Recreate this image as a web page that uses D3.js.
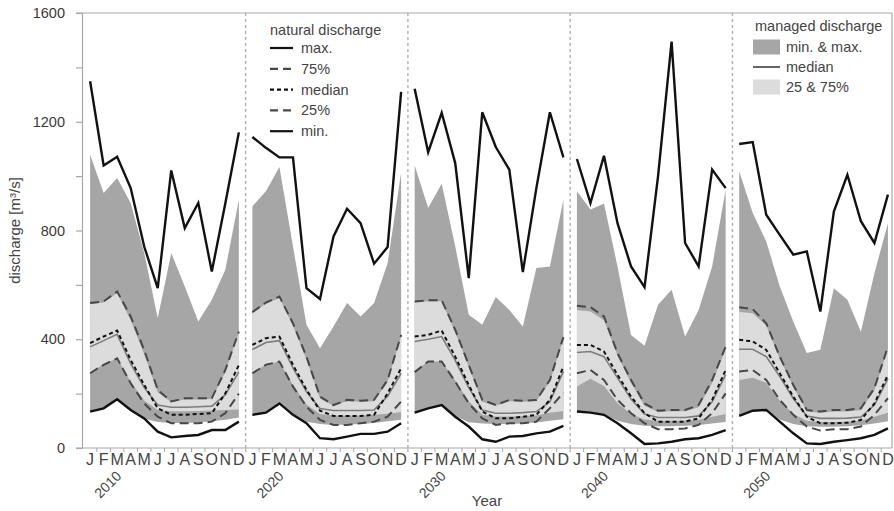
<!DOCTYPE html>
<html>
<head>
<meta charset="utf-8">
<script src="https://cdn.jsdelivr.net/npm/d3@7"></script>
<style>
  body { margin: 0; background: #fff; }
  svg { display: block; }
</style>
</head>
<body>
<div id="chart"></div>
<script>
// decades and months
var years = [2010, 2020, 2030, 2040, 2050];
var months = ["J", "F", "M", "A", "M", "J", "J", "A", "S", "O", "N", "D"];
var yTicks = [0, 400, 800, 1200, 1600];

// natural discharge, one row per decade (m3/s)
var natMax = [
    [1349, 1039, 1071, 956, 741, 588, 1021, 809, 901, 649, 900, 1161],
    [1144, 1104, 1069, 1069, 588, 548, 778, 880, 827, 678, 739, 1310],
    [1321, 1088, 1233, 1048, 625, 1235, 1107, 1024, 647, 956, 1235, 1069],
    [1063, 901, 1075, 827, 668, 592, 1000, 1495, 754, 668, 1024, 956],
    [1118, 1125, 858, 784, 711, 723, 502, 870, 1005, 834, 754, 932]
];
var nat75 = [
    [533, 539, 576, 484, 361, 214, 171, 183, 183, 183, 287, 428],
    [500, 535, 557, 459, 336, 189, 158, 177, 174, 177, 250, 416],
    [539, 543, 543, 435, 306, 177, 158, 177, 174, 177, 250, 408],
    [523, 518, 484, 349, 250, 164, 137, 140, 140, 158, 250, 373],
    [518, 511, 459, 336, 232, 140, 134, 140, 140, 146, 220, 373]
];
var natMedian = [
    [386, 410, 432, 324, 232, 146, 122, 122, 125, 128, 201, 305],
    [379, 404, 410, 306, 214, 137, 118, 118, 118, 122, 201, 293],
    [410, 416, 432, 336, 232, 134, 109, 109, 115, 122, 177, 300],
    [379, 379, 355, 269, 189, 128, 97, 97, 97, 109, 177, 287],
    [398, 392, 361, 275, 189, 115, 91, 91, 93, 103, 164, 269]
];
var nat25 = [
    [275, 306, 330, 238, 164, 115, 91, 91, 91, 97, 128, 200],
    [275, 306, 318, 226, 152, 103, 85, 85, 91, 97, 115, 171],
    [279, 318, 318, 244, 164, 109, 85, 91, 91, 97, 146, 204],
    [275, 287, 250, 177, 128, 91, 69, 69, 72, 85, 128, 201],
    [281, 287, 250, 177, 122, 79, 64, 69, 69, 79, 122, 183]
];
var natMin = [
    [134, 146, 179, 140, 109, 60, 39, 44, 48, 66, 66, 97],
    [122, 130, 164, 122, 91, 36, 32, 42, 52, 52, 60, 91],
    [130, 146, 158, 115, 79, 32, 23, 42, 44, 54, 60, 81],
    [134, 130, 122, 91, 54, 15, 17, 23, 32, 36, 48, 66],
    [118, 137, 140, 97, 54, 17, 15, 23, 29, 36, 48, 72]
];

// managed discharge
var manMax = [
    [1079, 938, 993, 901, 717, 478, 717, 594, 465, 545, 656, 913],
    [889, 944, 1034, 742, 453, 367, 447, 533, 484, 533, 680, 1012],
    [1039, 883, 972, 742, 490, 453, 555, 508, 447, 662, 668, 913],
    [944, 877, 899, 668, 416, 376, 527, 582, 410, 508, 668, 950],
    [1018, 864, 760, 594, 465, 349, 361, 588, 545, 428, 643, 827]
];
var man75 = [
    [530, 535, 570, 470, 345, 205, 168, 178, 178, 180, 280, 425],
    [497, 530, 552, 450, 325, 182, 155, 172, 170, 172, 245, 410],
    [535, 540, 540, 425, 298, 170, 155, 172, 170, 172, 245, 402],
    [508, 502, 470, 340, 240, 155, 132, 135, 135, 150, 240, 365],
    [500, 496, 450, 328, 225, 134, 130, 134, 134, 140, 212, 365]
];
var manMedian = [
    [372, 395, 418, 310, 222, 158, 150, 150, 152, 154, 196, 280],
    [362, 388, 395, 295, 207, 145, 138, 138, 138, 140, 190, 275],
    [392, 400, 410, 322, 222, 140, 128, 128, 130, 134, 170, 282],
    [351, 355, 336, 258, 180, 125, 112, 112, 112, 118, 170, 270],
    [363, 363, 336, 263, 182, 118, 109, 109, 110, 114, 158, 255]
];
var man25 = [
    [278, 308, 330, 245, 175, 140, 135, 135, 136, 138, 140, 142],
    [278, 306, 318, 232, 160, 125, 120, 120, 120, 122, 126, 132],
    [282, 318, 318, 248, 172, 122, 116, 116, 118, 120, 130, 136],
    [226, 255, 228, 165, 125, 105, 100, 100, 100, 104, 115, 125],
    [250, 258, 240, 175, 125, 100, 96, 96, 97, 100, 115, 130]
];
var manMin = [
    [134, 146, 179, 135, 108, 96, 92, 92, 94, 98, 104, 112],
    [122, 130, 164, 122, 97, 88, 85, 86, 88, 92, 98, 104],
    [130, 146, 158, 118, 95, 90, 88, 88, 90, 94, 100, 106],
    [134, 130, 122, 100, 88, 82, 80, 80, 82, 85, 90, 96],
    [118, 137, 140, 105, 88, 80, 78, 78, 80, 84, 90, 98]
];

var natLabels = ["max.", "75%", "median", "25%", "min."];
var manLabels = ["min. & max.", "median", "25 & 75%"];

var W = 894, H = 511;
var margin = { top: 13, right: 2, bottom: 63, left: 82 };
var width = W - margin.left - margin.right,
    height = H - margin.top - margin.bottom;

var font = "'Liberation Sans', Arial, Helvetica, sans-serif";
var darkFill = "#a6a6a6", lightFill = "#dcdcdc", frameCol = "#a8a8a8";

var svg = d3.select("#chart").append("svg")
    .attr("width", W)
    .attr("height", H)
    .style("font-family", font);

var g = svg.append("g")
    .attr("transform", "translate(" + margin.left + "," + margin.top + ")");

// one continuous month index over all five decades
var x = d3.scaleLinear().domain([-0.6, 59.3]).range([0, width]);
var y = d3.scaleLinear().domain([0, 1600]).range([height, 0]);

// frame top + right
g.append("line").attr("x1", -6).attr("x2", width).attr("y1", 0).attr("y2", 0)
    .attr("stroke", frameCol).attr("stroke-width", 1.2);
g.append("line").attr("x1", width).attr("x2", width).attr("y1", 0).attr("y2", height)
    .attr("stroke", frameCol).attr("stroke-width", 1.2);

// y axis
var yAxis = g.append("g")
    .call(d3.axisLeft(y)
        .tickValues(d3.range(0, 1601, 200))
        .tickSize(6)
        .tickPadding(11)
        .tickFormat(function(d) { return yTicks.indexOf(d) >= 0 ? d : ""; }));
yAxis.select(".domain").attr("stroke", frameCol).attr("stroke-width", 1.2);
yAxis.selectAll(".tick line").attr("stroke", frameCol).attr("stroke-width", 1.2);
yAxis.selectAll("text").attr("fill", "#3a3a3a").style("font-size", "14.5px").style("font-family", font);

// x axis line + small ticks between months
g.append("line").attr("x1", -6).attr("x2", width).attr("y1", height).attr("y2", height)
    .attr("stroke", frameCol).attr("stroke-width", 1.2);
g.selectAll(".xtick").data(d3.range(1, 60))
    .enter().append("line")
    .attr("class", "xtick")
    .attr("x1", function(d) { return x(d - 0.5); })
    .attr("x2", function(d) { return x(d - 0.5); })
    .attr("y1", height)
    .attr("y2", height + 4)
    .attr("stroke", frameCol);

// decade separators
g.selectAll(".sep").data(years.slice(1))
    .enter().append("line")
    .attr("class", "sep")
    .attr("x1", function(d, i) { return x((i + 1) * 12 - 0.5); })
    .attr("x2", function(d, i) { return x((i + 1) * 12 - 0.5); })
    .attr("y1", 0)
    .attr("y2", height + 4)
    .attr("stroke", "#b0b0b0")
    .attr("stroke-width", 1.4)
    .attr("stroke-dasharray", "3,3");

// panels
years.forEach(function(yr, p) {
    var idx = function(m) { return p * 12 + m; };
    var rows = months.map(function(mo, m) { return m; });

    var band = function(hi, lo) {
        return d3.area()
            .x(function(m) { return x(idx(m)); })
            .y0(function(m) { return y(lo[p][m]); })
            .y1(function(m) { return y(hi[p][m]); });
    };
    var line = function(arr) {
        return d3.line()
            .x(function(m) { return x(idx(m)); })
            .y(function(m) { return y(arr[p][m]); });
    };

    var pg = g.append("g").attr("class", "panel-" + yr);

    pg.append("path").datum(rows).attr("d", band(manMax, manMin)).attr("fill", darkFill);
    pg.append("path").datum(rows).attr("d", band(man75, man25)).attr("fill", lightFill);
    pg.append("path").datum(rows).attr("d", line(manMedian))
        .attr("fill", "none").attr("stroke", "#7c7c7c").attr("stroke-width", 1.6);

    pg.append("path").datum(rows).attr("d", line(nat75))
        .attr("fill", "none").attr("stroke", "#484848").attr("stroke-width", 2)
        .attr("stroke-dasharray", "9,5");
    pg.append("path").datum(rows).attr("d", line(nat25))
        .attr("fill", "none").attr("stroke", "#484848").attr("stroke-width", 2)
        .attr("stroke-dasharray", "9,5");
    pg.append("path").datum(rows).attr("d", line(natMedian))
        .attr("fill", "none").attr("stroke", "#111").attr("stroke-width", 2)
        .attr("stroke-dasharray", "4,3");
    pg.append("path").datum(rows).attr("d", line(natMax))
        .attr("fill", "none").attr("stroke", "#111").attr("stroke-width", 2.4);
    pg.append("path").datum(rows).attr("d", line(natMin))
        .attr("fill", "none").attr("stroke", "#111").attr("stroke-width", 2.4);

    // month letters
    pg.selectAll(".mon").data(months)
        .enter().append("text")
        .attr("class", "mon")
        .attr("x", function(d, m) { return x(idx(m)); })
        .attr("y", height + 16.5)
        .attr("text-anchor", "middle")
        .attr("fill", "#444")
        .style("font-size", "16px")
        .text(function(d) { return d; });

    // rotated decade label
    pg.append("text")
        .attr("transform", "translate(" + (x(idx(2)) + 5) + "," + (height + 29) + ") rotate(-45)")
        .attr("text-anchor", "end")
        .attr("fill", "#444")
        .style("font-size", "14px")
        .text(yr);
});

// axis titles
g.append("text")
    .attr("x", width / 2)
    .attr("y", height + 58)
    .attr("text-anchor", "middle")
    .attr("fill", "#444")
    .style("font-size", "15px")
    .text("Year");

g.append("text")
    .attr("transform", "translate(-62," + (height / 2) + ") rotate(-90)")
    .attr("text-anchor", "middle")
    .attr("fill", "#444")
    .style("font-size", "15px")
    .text("discharge [m³/s]");

// legend: natural discharge
var natStyles = [
    { stroke: "#111", dash: null },
    { stroke: "#484848", dash: "8,5" },
    { stroke: "#111", dash: "4,3" },
    { stroke: "#484848", dash: "8,5" },
    { stroke: "#111", dash: null }
];
var leg1 = svg.append("g").attr("transform", "translate(270,0)");
leg1.append("text").attr("x", 0).attr("y", 35).attr("fill", "#444")
    .style("font-size", "14.5px").text("natural discharge");
var li = leg1.selectAll(".li").data(natLabels).enter().append("g")
    .attr("class", "li")
    .attr("transform", function(d, i) { return "translate(0," + (48 + i * 20.8) + ")"; });
li.append("line").attr("x1", 0).attr("x2", 23).attr("y1", 0).attr("y2", 0)
    .attr("stroke", function(d, i) { return natStyles[i].stroke; })
    .attr("stroke-width", 2.2)
    .attr("stroke-dasharray", function(d, i) { return natStyles[i].dash; });
li.append("text").attr("x", 31).attr("y", 0).attr("dy", "0.35em").attr("fill", "#444")
    .style("font-size", "14.5px").text(function(d) { return d; });

// legend: managed discharge
var leg2 = svg.append("g").attr("transform", "translate(753,0)");
leg2.append("text").attr("x", 2).attr("y", 31).attr("fill", "#444")
    .style("font-size", "14.5px").text("managed discharge");
var mi = leg2.selectAll(".mi").data(manLabels).enter().append("g")
    .attr("class", "mi")
    .attr("transform", function(d, i) { return "translate(0," + (47 + i * 20) + ")"; });
mi.each(function(d, i) {
    var s = d3.select(this);
    if (i === 1) {
        s.append("line").attr("x1", 0).attr("x2", 27).attr("y1", 0).attr("y2", 0)
            .attr("stroke", "#555").attr("stroke-width", 1.8);
    } else {
        s.append("rect").attr("x", 0).attr("y", -7.5).attr("width", 27).attr("height", 15)
            .attr("fill", i === 0 ? darkFill : lightFill);
    }
});
mi.append("text").attr("x", 33).attr("y", 0).attr("dy", "0.35em").attr("fill", "#444")
    .style("font-size", "14.5px").text(function(d) { return d; });
</script>
</body>
</html>
